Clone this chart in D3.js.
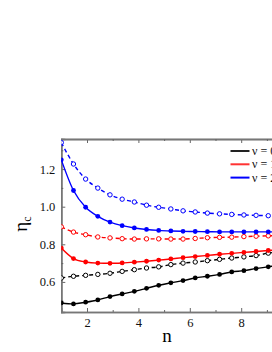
<!DOCTYPE html>
<html>
<head>
<meta charset="utf-8">
<script src="https://cdn.jsdelivr.net/npm/d3@7"></script>
<style>
  body { margin: 0; background: #fff; overflow: hidden; }
  svg { display: block; }
</style>
</head>
<body>
<div id="chart"></div>
<script>
// n sample points (20 points from 1 to 10)
const nValues = [1.000, 1.474, 1.947, 2.421, 2.895, 3.368, 3.842, 4.316, 4.789, 5.263,
                 5.737, 6.211, 6.684, 7.158, 7.632, 8.105, 8.579, 9.053, 9.526, 10.000];

// solid lines, filled markers
const black0 = [0.488, 0.483, 0.492, 0.504, 0.522, 0.536, 0.550, 0.566, 0.582, 0.595,
                0.607, 0.621, 0.630, 0.640, 0.653, 0.660, 0.671, 0.680, 0.690, 0.698];
const red0   = [0.780, 0.724, 0.706, 0.700, 0.699, 0.701, 0.705, 0.710, 0.716, 0.722,
                0.729, 0.735, 0.741, 0.747, 0.752, 0.757, 0.762, 0.767, 0.772, 0.776];
const blue0  = [1.249, 1.086, 0.997, 0.949, 0.918, 0.899, 0.887, 0.879, 0.874, 0.871,
                0.869, 0.868, 0.867, 0.866, 0.866, 0.866, 0.866, 0.866, 0.866, 0.866];

// dashed lines, open markers
const black1 = [0.621, 0.630, 0.635, 0.640, 0.646, 0.656, 0.665, 0.674, 0.680, 0.692,
                0.700, 0.706, 0.713, 0.720, 0.727, 0.733, 0.740, 0.753, 0.760, 0.765];
const red1   = [0.893, 0.865, 0.851, 0.839, 0.834, 0.830, 0.828, 0.829, 0.829, 0.828,
                0.828, 0.831, 0.835, 0.837, 0.838, 0.841, 0.843, 0.845, 0.847, 0.849];
const blue1  = [1.341, 1.227, 1.147, 1.099, 1.063, 1.040, 1.025, 1.008, 0.997, 0.988,
                0.978, 0.972, 0.966, 0.962, 0.959, 0.956, 0.954, 0.952, 0.950, 0.948];

const legendLabels = ['ν = 0', 'ν = 1', 'ν = 2'];
const xTicks = [2, 4, 6, 8, 10];
const yTicks = [0.6, 0.8, 1.0, 1.2];

const series = [
    { values: black0, color: '#000', dashed: false },
    { values: black1, color: '#000', dashed: true },
    { values: red0, color: '#ff0000', dashed: false },
    { values: red1, color: '#ff0000', dashed: true },
    { values: blue0, color: '#0000ff', dashed: false },
    { values: blue1, color: '#0000ff', dashed: true }
];
const legendColors = ['#222', '#ff3333', '#0000ff'];

const width = 272, height = 352;
const plot = { left: 61.3, right: 292.6, top: 139, bottom: 312 };

const svg = d3.select('#chart').append('svg')
    .attr('width', width)
    .attr('height', height);

const x = d3.scaleLinear().domain([1, 10]).range([plot.left, plot.right]);
const y = d3.scaleLinear().domain([0.44, 1.36]).range([plot.bottom, plot.top]);

svg.append('clipPath').attr('id', 'clip')
    .append('rect')
    .attr('x', plot.left).attr('y', plot.top)
    .attr('width', plot.right - plot.left).attr('height', plot.bottom - plot.top);

const font = '"Liberation Serif", "Times New Roman", serif';

// axes (ticks pointing inward)
const xAxis = svg.append('g')
    .attr('transform', `translate(0,${plot.bottom})`)
    .call(d3.axisBottom(x).tickValues(xTicks).tickSize(-4).tickPadding(6).tickFormat(d3.format('d')));
const xMinor = svg.append('g')
    .attr('transform', `translate(0,${plot.bottom})`)
    .call(d3.axisBottom(x).tickValues([3, 5, 7, 9]).tickSize(-2).tickFormat(''));
const xTop = svg.append('g')
    .attr('transform', `translate(0,${plot.top})`)
    .call(d3.axisTop(x).tickValues(xTicks).tickSize(-4).tickFormat(''));
const xTopMinor = svg.append('g')
    .attr('transform', `translate(0,${plot.top})`)
    .call(d3.axisTop(x).tickValues([3, 5, 7, 9]).tickSize(-2).tickFormat(''));

const yAxis = svg.append('g')
    .attr('transform', `translate(${plot.left},0)`)
    .call(d3.axisLeft(y).tickValues(yTicks).tickSize(-4).tickPadding(6).tickFormat(d3.format('.1f')));
const yMinor = svg.append('g')
    .attr('transform', `translate(${plot.left},0)`)
    .call(d3.axisLeft(y).tickValues([0.5, 0.7, 0.9, 1.1, 1.3]).tickSize(-2).tickFormat(''));

[xAxis, xMinor, xTop, xTopMinor, yAxis, yMinor].forEach(g => {
    g.select('.domain').attr('stroke', '#777').attr('stroke-width', 1.5);
    g.selectAll('.tick line').attr('stroke', '#666').attr('stroke-width', 1);
    g.selectAll('.tick text')
        .attr('fill', '#111')
        .style('font-family', font)
        .style('font-size', '12.5px');
});
xTop.select('.domain').attr('stroke', '#333').attr('stroke-width', 1.3);

// curves
const line = d3.line()
    .x((d, i) => x(nValues[i]))
    .y(d => y(d))
    .curve(d3.curveMonotoneX);

const plotG = svg.append('g').attr('clip-path', 'url(#clip)');

series.forEach(s => {
    plotG.append('path')
        .datum(s.values)
        .attr('d', line)
        .attr('fill', 'none')
        .attr('stroke', s.color)
        .attr('stroke-width', 1.4)
        .attr('stroke-dasharray', s.dashed ? '4,3' : null);

    plotG.selectAll(null)
        .data(s.values)
        .join('circle')
        .attr('cx', (d, i) => x(nValues[i]))
        .attr('cy', d => y(d))
        .attr('r', s.dashed ? 2.2 : 2.4)
        .attr('fill', s.dashed ? '#fff' : s.color)
        .attr('stroke', s.color)
        .attr('stroke-width', s.dashed ? 1 : 0);
});

// legend
const legend = svg.append('g');
legendLabels.forEach((label, i) => {
    const ly = 151 + i * 13.3;
    legend.append('line')
        .attr('x1', 230.5).attr('x2', 249.5)
        .attr('y1', ly).attr('y2', ly)
        .attr('stroke', legendColors[i])
        .attr('stroke-width', 2);
    legend.append('text')
        .attr('x', 252).attr('y', ly + 4)
        .style('font-family', font)
        .style('font-size', '12px')
        .attr('fill', '#111')
        .text(label);
});

// axis titles
svg.append('text')
    .attr('x', 167).attr('y', 342)
    .attr('text-anchor', 'middle')
    .style('font-family', font)
    .style('font-size', '19px')
    .text('n');

const yTitle = svg.append('text')
    .attr('transform', 'translate(27,224) rotate(-90)')
    .attr('text-anchor', 'middle')
    .style('font-family', font)
    .style('font-size', '19px');
yTitle.append('tspan').text('η');
yTitle.append('tspan').attr('dy', 4).style('font-size', '12px').text('c');
</script>
</body>
</html>
